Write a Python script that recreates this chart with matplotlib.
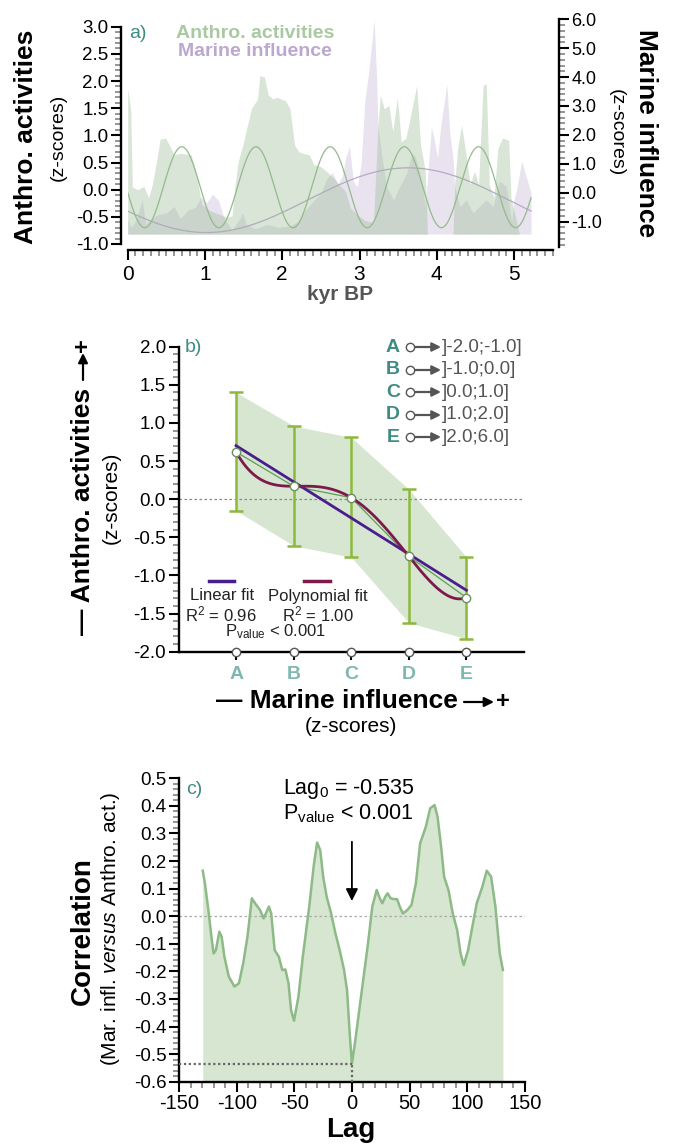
import numpy as np
import matplotlib
matplotlib.use('Agg')
import matplotlib.pyplot as plt
from matplotlib.ticker import MultipleLocator
from matplotlib.patches import FancyArrowPatch

# ---------------- DATA ----------------
# Panel a: Anthropogenic activities (left axis, z-scores)
anthro_kyr = [0.00, 0.04, 0.06, 0.13, 0.21, 0.27, 0.32, 0.38, 0.42, 0.49, 0.54, 0.60, 0.68, 0.82,
              0.88, 0.96, 1.07, 1.18, 1.29, 1.35, 1.39, 1.43, 1.49, 1.54, 1.60, 1.68, 1.71, 1.77,
              1.82, 1.88, 1.93, 2.04, 2.10, 2.16, 2.21, 2.27, 2.35, 2.41, 2.49, 2.57, 2.66, 2.74,
              2.82, 2.88, 2.96, 3.07, 3.18, 3.24, 3.27, 3.32, 3.38, 3.43, 3.49, 3.54, 3.60, 3.68,
              3.74, 3.79, 3.85, 3.88, 4.21, 4.23, 4.27, 4.32, 4.38, 4.43, 4.49, 4.54, 4.60, 4.64,
              4.68, 4.74, 4.79, 4.85, 4.93, 4.96, 5.02, 5.07]
anthro_z = [1.86, 1.45, 0.05, 0.00, 0.06, -0.15, 0.10, 0.58, 0.93, 0.95, 0.82, 0.64, 0.67, 0.64,
            0.34, -0.27, -0.39, -0.45, -0.51, -0.48, 0.09, 0.52, 0.82, 1.13, 1.49, 1.67, 2.10, 2.07,
            1.74, 1.67, 1.70, 1.64, 1.49, 0.82, 0.70, 0.67, 0.64, 0.46, 0.43, 0.34, 0.22, 0.09,
            -0.03, -0.33, -0.45, -0.57, -0.60, 1.19, 1.74, 1.49, 1.55, 1.07, 1.70, 0.88, 0.95, 1.49,
            1.92, 0.82, 0.34, -0.82, -0.82, 0.09, 0.76, 1.19, 0.64, 0.09, 0.34, 0.09, 1.92, 1.95,
            0.09, -0.15, 0.76, 0.95, 0.91, -0.15, -0.51, -0.82]
# Marine influence (right axis, z-scores)
marine_kyr = [0.00, 0.04, 0.10, 0.16, 0.19, 0.23, 0.30, 0.40, 0.50, 0.60, 0.68, 0.78, 0.88, 0.95,
              1.02, 1.10, 1.18, 1.25, 1.35, 1.45, 1.49, 1.53, 1.65, 1.80, 1.95, 2.10, 2.20, 2.30,
              2.40, 2.50, 2.58, 2.65, 2.72, 2.78, 2.82, 2.87, 2.92, 2.97, 3.02, 3.07, 3.12, 3.19,
              3.22, 3.24, 3.29, 3.35, 3.44, 3.52, 3.61, 3.68, 3.72, 3.76, 3.81, 3.85, 3.88, 3.93,
              3.97, 4.01, 4.05, 4.13, 4.17, 4.21, 4.23, 4.30, 4.38, 4.47, 4.55, 4.64, 4.73, 4.81,
              4.90, 4.97, 5.00, 5.04, 5.10, 5.14, 5.22]
marine_z = [-0.9, -1.2, -1.0, -0.5, -0.25, -1.1, -0.9, -0.75, -0.7, -0.48, -0.9, -0.6, -0.5, -0.15,
            -0.35, -0.05, -0.3, -0.9, -1.3, -0.9, -0.7, -1.1, -1.25, -1.1, -1.2, -1.15, -1.0, -0.6,
            -0.3, 0.0, 0.5, 0.7, 0.3, 0.6, 1.2, 1.6, 0.4, 0.2, 1.0, 3.2, 4.2, 6.0,
            4.0, 2.28, 1.25, 0.21, -0.25, 0.21, 0.67, 1.36, 1.25, 0.9, 0.33, -0.48, 0.5, 2.28,
            1.8, 1.2, 2.28, 3.77, 2.0, 1.2, 0.21, -0.48, -0.25, -0.7, -0.48, -0.25, -0.48, 0.4,
            0.21, -1.0, -0.25, 0.2, 1.1, 0.7, 0.0]
anthro_base = -0.82   # fill baseline (left units)
marine_base = -1.43   # fill baseline (right units)
# fitted cycles (period kyr, phase of max kyr, mean, amplitude)
anthro_cycle = dict(period=0.96, peak=0.70, mean=0.045, amp=0.745, end=5.22)
marine_cycle = dict(period=5.22, peak=3.63, mean=-0.26, amp=1.12, end=5.22)

# Panel b
classes = ['A', 'B', 'C', 'D', 'E']
class_ranges = [']-2.0;-1.0]', ']-1.0;0.0]', ']0.0;1.0]', ']1.0;2.0]', ']2.0;6.0]']
class_mean = [0.62, 0.17, 0.02, -0.75, -1.29]
class_low = [-0.15, -0.61, -0.76, -1.62, -1.83]
class_high = [1.40, 0.96, 0.81, 0.13, -0.76]

# Panel c: cross-correlation
lag = [-129.4, -127.5, -124.5, -121.9, -120.0, -118.0, -115.0, -113.0, -110.6, -106.8, -101.9, -98.0,
       -94.3, -90.6, -86.8, -84.0, -79.6, -76.6, -74.0, -72.0, -70.0, -67.0, -63.4, -60.4, -57.7,
       -55.0, -52.8, -50.2, -46.4, -42.6, -37.0, -33.2, -30.2, -27.5, -24.9, -21.9, -18.0, -14.3,
       -10.6, -6.8, -4.2, -1.9, 0.0, 2.6, 6.4, 10.2, 14.0, 17.7, 21.5, 24.2, 26.4, 29.0, 31.0,
       33.6, 36.6, 39.2, 41.5, 44.2, 48.0, 51.7, 55.5, 59.2, 64.2, 67.9, 71.7, 74.3, 77.4, 80.0,
       83.8, 87.5, 91.3, 94.3, 97.0, 100.8, 104.5, 108.3, 113.2, 117.0, 120.8, 124.5, 128.3, 131.0]
corr = [0.165, 0.119, 0.022, -0.074, -0.135, -0.123, -0.056, -0.074, -0.147, -0.219, -0.255, -0.243,
        -0.171, -0.074, 0.065, 0.047, 0.022, -0.008, 0.016, 0.035, 0.010, -0.123, -0.147, -0.195, -0.193,
        -0.243, -0.340, -0.379, -0.292, -0.147, 0.035, 0.180, 0.267, 0.240, 0.143, 0.071, 0.010, -0.062,
        -0.123, -0.195, -0.268, -0.425, -0.535, -0.461, -0.340, -0.219, -0.098, 0.035, 0.095, 0.065, 0.047,
        0.071, 0.083, 0.065, 0.062, 0.062, 0.035, 0.010, 0.022, 0.041, 0.119, 0.264, 0.325, 0.391, 0.403,
        0.361, 0.252, 0.143, 0.095, 0.010, -0.050, -0.135, -0.177, -0.123, -0.038, 0.047, 0.107, 0.165,
        0.143, 0.035, -0.135, -0.195]
lag0_value = -0.535

# ---------------- STYLE ----------------
FAM = ['Liberation Sans Narrow', 'Liberation Sans', 'DejaVu Sans']
plt.rcParams['font.family'] = FAM
plt.rcParams['mathtext.fontset'] = 'custom'
plt.rcParams['mathtext.rm'] = 'Liberation Sans'
plt.rcParams['mathtext.it'] = 'Liberation Sans:italic'
plt.rcParams['mathtext.bf'] = 'Liberation Sans:bold'

W, H = 673, 1144
fig = plt.figure(figsize=(W / 100, H / 100), dpi=100)

GREEN_TXT = '#a9c9a1'
PURPLE_TXT = '#bba8d0'
TEAL = '#3e8c84'
LTEAL = '#7fb8b0'
GRAYTXT = '#555555'
MINOR = '#8c8c8c'


def px_axes(x0, x1, ytop, ybot):
    return fig.add_axes([x0 / W, 1 - ybot / H, (x1 - x0) / W, (ybot - ytop) / H])


def ftext(x, y, s, **kw):
    return fig.text(x / W, 1 - y / H, s, **kw)


def farrow(x0, y0, x1, y1, color='black', lw=1.6, ms=14):
    fig.add_artist(FancyArrowPatch((x0 / W, 1 - y0 / H), (x1 / W, 1 - y1 / H),
                                   transform=fig.transFigure, arrowstyle='-|>',
                                   mutation_scale=ms, lw=lw, color=color,
                                   shrinkA=0, shrinkB=0))


def style(ax, size=13):
    ax.tick_params(which='major', length=7, width=1.5, color='black', labelsize=size, pad=2)
    ax.tick_params(which='minor', length=4.5, width=1.3, color=MINOR)
    for s in ax.spines.values():
        s.set_linewidth(1.7)


def fmt1(v):
    v = round(v, 1)
    return '%.1f' % (0.0 if v == 0 else v)


# ---------------- PANEL A ----------------
ax2 = px_axes(127.7, 552.7, 19, 247)
ax = px_axes(127.7, 552.7, 26.7, 244)
ax.set_zorder(3)
ax.patch.set_visible(False)
ax2.set_zorder(1)

ax2.fill_between(marine_kyr, marine_z, marine_base, color='#e9e3f0', lw=0)
ax.fill_between(anthro_kyr, anthro_z, anthro_base, color=(150/255, 185/255, 145/255), alpha=0.36, lw=0)

ta = np.linspace(0, anthro_cycle['end'], 600)
ax.plot(ta, anthro_cycle['mean'] + anthro_cycle['amp'] *
        np.cos(2 * np.pi * (ta - anthro_cycle['peak']) / anthro_cycle['period']),
        color='#93bb8c', lw=0.9)
tm = np.linspace(0, marine_cycle['end'], 600)
ax2.plot(tm, marine_cycle['mean'] + marine_cycle['amp'] *
         np.cos(2 * np.pi * (tm - marine_cycle['peak']) / marine_cycle['period']),
         color='#b9a7cc', lw=0.9)

ax.set_xlim(0, 5.5)
ax.set_ylim(-1.0, 3.0)
ax2.set_xlim(0, 5.5)
ax2.set_ylim(-1.88, 6.01)
for a in (ax, ax2):
    a.spines['top'].set_visible(False)
ax.spines['right'].set_visible(False)
ax2.spines['left'].set_visible(False)
ax2.spines['bottom'].set_visible(False)
ax.spines['left'].set_position(('outward', 5))
ax.spines['bottom'].set_position(('outward', 4.3))
ax2.spines['right'].set_position(('outward', 4.5))
ax2.yaxis.tick_right()
ax2.set_xticks([])
style(ax, 13.5)
style(ax2, 13)
ax.yaxis.set_minor_locator(MultipleLocator(0.1))
ax.xaxis.set_minor_locator(MultipleLocator(0.1))
yt_a = [-1.0, -0.5, 0.0, 0.5, 1.0, 1.5, 2.0, 2.5, 3.0]
ax.set_yticks(yt_a)
ax.set_yticklabels([fmt1(v) for v in yt_a])
ax.set_xticks([0, 1, 2, 3, 4, 5])
ax.set_xticklabels(['0', '1', '2', '3', '4', '5'])
yt_m = [-1, 0, 1, 2, 3, 4, 5, 6]
ax2.set_yticks(yt_m)
ax2.set_yticklabels([fmt1(v) for v in yt_m])
ax2.yaxis.set_minor_locator(MultipleLocator(0.2))
ax.tick_params(axis='x', labelsize=15, pad=4)

ftext(129, 33, 'a)', color=TEAL, fontsize=14, va='center')
ftext(255, 33, 'Anthro. activities', color=GREEN_TXT, fontsize=14, fontweight='bold', ha='center', va='center')
ftext(255, 52, 'Marine influence', color=PURPLE_TXT, fontsize=14, fontweight='bold', ha='center', va='center')
ftext(26, 137, 'Anthro. activities', rotation=90, fontsize=19, fontweight='bold', ha='center', va='center')
ftext(58, 137, '(z-scores)', rotation=90, fontsize=14, ha='center', va='center')
ftext(646, 133, 'Marine influence', rotation=-90, fontsize=19, fontweight='bold', ha='center', va='center')
ftext(616, 133, '(z-scores)', rotation=-90, fontsize=14, ha='center', va='center')
ftext(340, 294, 'kyr BP', fontsize=15, fontweight='bold', color=GRAYTXT, ha='center', va='center')

# ---------------- PANEL B ----------------
bx = px_axes(178.5, 524, 346.7, 651.7)
xc = np.arange(1, len(classes) + 1)
bx.fill_between(xc, class_low, class_high, color='#d6e6d1', lw=0, zorder=1)
bx.axhline(0, color='#888888', lw=0.9, ls=(0, (2, 2)), zorder=2)
bx.errorbar(xc, class_mean,
            yerr=[np.array(class_mean) - np.array(class_low), np.array(class_high) - np.array(class_mean)],
            fmt='none', ecolor='#8cb83c', elinewidth=1.8, capsize=5, capthick=1.8, zorder=3)
bx.plot(xc, class_mean, color='#5f9e52', lw=0.9, zorder=4)
lin = np.polyfit(xc, class_mean, 1)
pol = np.polyfit(xc, class_mean, 4)
xf = np.linspace(1, 5, 300)
bx.plot(xf, np.polyval(lin, xf), color='#4a1d8c', lw=2, zorder=5)
bx.plot(xf, np.polyval(pol, xf), color='#7d1a4c', lw=2, zorder=5)
bx.plot(xc, class_mean, 'o', ms=6, mfc='white', mec='#6c8f64', mew=1, zorder=6)
bx.set_xlim(0, 6)
bx.set_ylim(-2, 2)
bx.spines['top'].set_visible(False)
bx.spines['right'].set_visible(False)
style(bx, 13.5)
bx.yaxis.set_minor_locator(MultipleLocator(0.1))
yt_b = [-2.0, -1.5, -1.0, -0.5, 0.0, 0.5, 1.0, 1.5, 2.0]
bx.set_yticks(yt_b)
bx.set_yticklabels([fmt1(v) for v in yt_b])
bx.set_xticks(xc)
bx.set_xticklabels(classes, color=LTEAL, fontsize=14, fontweight='bold')
bx.tick_params(axis='x', which='major', length=6, pad=4)
bx.plot(xc, [-2] * len(xc), 'o', ms=6, mfc='white', mec='#555555', mew=1, clip_on=False, zorder=7)

ftext(185, 348, 'b)', color=TEAL, fontsize=14, va='center')
rows_y = [347, 370, 392, 415, 437]
for cl, rg, yy in zip(classes, class_ranges, rows_y):
    ftext(393, yy, cl, color=TEAL, fontsize=14, fontweight='bold', ha='center', va='center')
    fig.add_artist(plt.Line2D([410 / W], [1 - yy / H], marker='o', ms=6, mfc='white',
                              mec='#555555', mew=1, transform=fig.transFigure))
    farrow(413, yy, 441, yy, color='#555555', lw=1.6, ms=13)
    ftext(442, yy, rg, color=GRAYTXT, fontsize=13.5, ha='left', va='center')

fig.add_artist(plt.Line2D([209 / W, 234 / W], [1 - 581 / H] * 2, color='#4a1d8c', lw=2.5, transform=fig.transFigure))
fig.add_artist(plt.Line2D([304 / W, 330 / W], [1 - 581 / H] * 2, color='#7d1a4c', lw=2.5, transform=fig.transFigure))
ftext(222, 596, 'Linear fit', fontsize=12, ha='center', va='center', color='#222222')
ftext(318, 596, 'Polynomial fit', fontsize=12, ha='center', va='center', color='#222222')
ftext(221, 614, r'R$^2$ = 0.96', fontsize=12, ha='center', va='center', color='#222222')
ftext(318, 614, r'R$^2$ = 1.00', fontsize=12, ha='center', va='center', color='#222222')
ftext(276, 632, r'P$_{\mathrm{value}}$ < 0.001', fontsize=12, ha='center', va='center', color='#222222')

# y label of b: "— Anthro. activities →+"
ftext(83, 388, '\u2014 Anthro. activities', rotation=90, fontsize=19, fontweight='bold',
      ha='center', va='top', family=['Liberation Sans', 'DejaVu Sans'])
farrow(83, 380, 83, 353, lw=1.6, ms=14)
ftext(83, 345, '+', rotation=90, fontsize=17, fontweight='bold', ha='center', va='center',
      family=['Liberation Sans', 'DejaVu Sans'])
ftext(111, 498, '(z-scores)', rotation=90, fontsize=15, ha='center', va='center')
# x label of b: "— Marine influence →+"
ftext(458, 701, '\u2014 Marine influence', fontsize=19, fontweight='bold',
      ha='right', va='center', family=['Liberation Sans', 'DejaVu Sans'])
farrow(464, 702, 494, 702, lw=1.6, ms=14)
ftext(503, 701, '+', fontsize=17, fontweight='bold', ha='center', va='center',
      family=['Liberation Sans', 'DejaVu Sans'])
ftext(351, 726, '(z-scores)', fontsize=15, ha='center', va='center')

# ---------------- PANEL C ----------------
cx = px_axes(179, 524.8, 778.3, 1081.7)
cx.fill_between(lag, corr, -0.6, color='#d6e6d1', lw=0, zorder=1)
cx.plot(lag, corr, color='#8dba86', lw=1.8, zorder=3)
cx.axhline(0, color='#aaaaaa', lw=0.9, ls=(0, (2, 2)), zorder=2)
cx.plot([-150, 0], [lag0_value, lag0_value], color='#666666', lw=1.6, ls=(0, (1, 1.2)), zorder=4)
cx.plot([0, 0], [-0.6, lag0_value], color='#666666', lw=1.6, ls=(0, (1, 1.2)), zorder=4)
cx.annotate('', xy=(0, 0.045), xytext=(0, 0.28),
            arrowprops=dict(arrowstyle='-|>', color='black', lw=1.3, mutation_scale=18))
cx.text(-60, 0.462, r'Lag$_0$ = -0.535', fontsize=15.5, ha='left', va='center')
cx.text(-60, 0.372, r'P$_{\mathrm{value}}$ < 0.001', fontsize=15.5, ha='left', va='center')
cx.set_xlim(-150, 150)
cx.set_ylim(-0.6, 0.5)
cx.spines['top'].set_visible(False)
cx.spines['right'].set_visible(False)
style(cx, 13.5)
cx.xaxis.set_minor_locator(MultipleLocator(10))
yt_c = list(np.round(np.arange(-0.6, 0.51, 0.1), 1))
cx.set_yticks(yt_c)
cx.set_yticklabels([fmt1(v) for v in yt_c])
cx.yaxis.set_minor_locator(MultipleLocator(0.02))
xt_c = [-150, -100, -50, 0, 50, 100, 150]
cx.set_xticks(xt_c)
cx.set_xticklabels([str(v) for v in xt_c], fontsize=14.5)

ftext(186, 789, 'c)', color=TEAL, fontsize=14, va='center')
ftext(83, 931, 'Correlation', rotation=90, fontsize=20, fontweight='bold', ha='center', va='center')
ftext(111, 929, r'(Mar. infl. $\mathit{versus}$ Anthro. act.)', rotation=90, fontsize=15, ha='center', va='center')
ftext(351, 1130, 'Lag', fontsize=20, fontweight='bold', ha='center', va='center')

fig.savefig('out.png', dpi=100)
